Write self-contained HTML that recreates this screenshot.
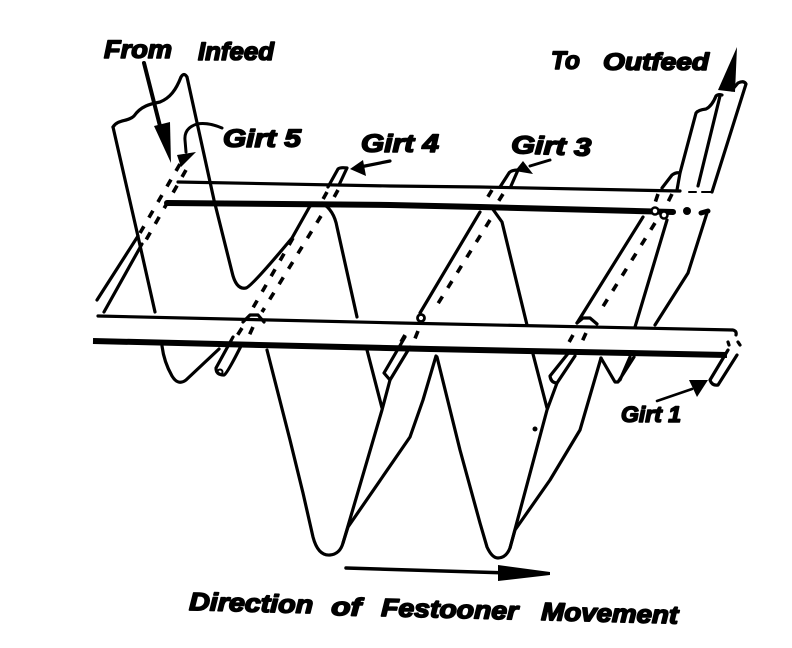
<!DOCTYPE html>
<html><head><meta charset="utf-8"><style>
html,body{margin:0;padding:0;background:#fff}
svg{display:block}
text{font-family:"Liberation Sans",sans-serif;font-weight:bold;font-style:italic;fill:#000;stroke:#000;stroke-width:1.6;stroke-linejoin:round}
.l{fill:none;stroke:#000;stroke-width:3.2;stroke-linecap:round;stroke-linejoin:round}
.d{fill:none;stroke:#000;stroke-width:3.6;stroke-dasharray:8 10}
</style></head><body>
<svg width="792" height="648" viewBox="0 0 792 648" xmlns="http://www.w3.org/2000/svg">
<!-- web -->
<path class="l" d="M113 127C118 119 128 122 134 116C141 106 150 104 160 102C170 98 176 90 181 77Q184 72 187 77L214 200L232 272Q236 290 246 288Q252 286 292 238L310 206L322 203Q334 210 337 227L357 317"/>
<path class="l" d="M113 127L137 232L155 312"/>
<path class="l" d="M162 346Q164 362 172 376Q178 386 186 380L219 349"/>
<path class="l" d="M267 350L290 440L303 493L313 537Q318 556 330 555Q340 554 343 543L382 410L390 380M382 408L367 350"/>
<path class="l" d="M343 543L348 527L410 437L423 400L436 356"/>
<path class="l" d="M437 357L460 450L480 523L487 547Q492 558 498 558Q506 558 510 548L547 410L557 383M547 408L533 354"/>
<path class="l" d="M510 548L515 530L550 480L580 430L601 358"/>
<path class="l" d="M601 358L615 382H618L634 357M620 380L630 357"/>
<path class="l" d="M492 208L502 222L527 325"/>
<path class="l" d="M480 212L420 313"/>
<path class="l" d="M643 217L577 323"/>
<path class="l" d="M667 220L635 327"/>
<path class="l" d="M707 213L688 273L655 325"/>
<path class="l" d="M680 173L696 113Q698 110 706 109Q712 106 716 96Q718 94 722 95M698 186L720 96M712 192L746 84Q744 80 738 83L732 90"/>
<!-- upper rail -->
<path class="l" d="M178 182L390 186L480 187L680 191"/>
<path class="l" style="stroke-width:2" d="M689 192H696M702 192H711"/>
<path class="l" style="stroke-width:6" d="M167 203L390 205L480 207L673 212"/>
<circle cx="687" cy="211" r="4"/>
<path class="l" style="stroke-width:5" d="M701 213L708 211"/>
<!-- lower rail -->
<path class="l" d="M98 316L400 323L733 330Q737 331 736 335"/>
<path class="l" style="stroke-width:6;stroke-linecap:butt" d="M93 341L430 349L727 355"/>
<!-- girt 5 -->
<path class="l" d="M138 236L97 300M142 244L104 312"/>
<path class="d" d="M180 164L140 233M186 170L146 240"/>
<!-- girt 4 -->
<path class="l" d="M328 187L338 169Q340 167 347 168L339 185"/>
<path class="d" d="M327 192L322 201M338 190L332 201"/>
<path class="d" d="M293 238L250 313M321 216L262 312"/>
<path class="l" d="M243 322L250 315H258L264 322"/>
<path class="d" d="M242 328L235 339M253 327L248 338"/>
<path class="l" d="M233 337L216 368Q216 375 224 375Q227 374 242 344"/>
<circle cx="220" cy="372" r="2.5" fill="none" stroke="#000" stroke-width="2"/>
<!-- girt 3 -->
<path class="l" d="M500 187L509 173Q511 170 518 170L511 186"/>
<path class="d" d="M492 190L486 200M503 194L498 202M490 220L434 310"/>
<circle cx="421" cy="318" r="3.5" fill="none" stroke="#000" stroke-width="2.8"/>
<path class="d" d="M405 335L401 342M418 331L414 341"/>
<path class="l" d="M405 337L384 373L390 380L410 347"/>
<!-- girt 2 -->
<path class="l" d="M662 188L672 175Q676 172 680 173L677 190"/>
<path class="d" d="M658 194L654 206M672 194L666 206M655 223L602 308"/>
<circle cx="655" cy="211" r="3.5" fill="#fff" stroke="#000" stroke-width="2.5"/>
<circle cx="664" cy="215" r="3.5" fill="#fff" stroke="#000" stroke-width="2.5"/>
<path class="l" d="M577 323L583 318H590L597 324"/>
<path class="d" d="M573 335L568 344M586 333L581 344"/>
<path class="l" d="M570 351L550 376Q551 383 557 383L575 356"/>
<!-- girt 1 -->
<path class="l" d="M728 350L710 380Q712 386 718 385L737 355"/>
<path class="l" d="M728 342L729 345M738 342L740 345"/>
<!-- arrows -->
<path class="l" style="stroke-width:4" d="M144 63L161 130"/>
<path d="M154 126L170 122L171 163Z"/>
<path class="l" style="stroke-width:3" d="M222 128Q208 122 197 124Q184 128 185 140L186 152"/>
<path d="M177 155L196 152L181 167Z"/>
<path d="M737 47L735 92L718 90Z"/>
<path class="l" d="M390 161L360 167"/>
<path d="M350 169L363 160L366 176Z"/>
<path class="l" style="stroke-width:3" d="M550 160L530 166"/>
<path d="M515 171L523 161L533 174Z"/>
<path class="l" style="stroke-width:2.6" d="M657 401L692 389"/>
<path d="M689 380L708 380L697 397Z"/>
<path class="l" style="stroke-width:3.5" d="M346 568L510 573"/>
<path d="M498 565L550 572V575L498 581Z"/>
<circle cx="535" cy="429" r="2.5"/>
<!-- labels -->
<text x="104" y="58" font-size="25" textLength="68" lengthAdjust="spacingAndGlyphs">From</text>
<text x="198" y="60" font-size="25" textLength="76" lengthAdjust="spacingAndGlyphs">Infeed</text>
<text x="551" y="69" font-size="25" textLength="29" lengthAdjust="spacingAndGlyphs">To</text>
<text x="603" y="70" font-size="24" textLength="106" lengthAdjust="spacingAndGlyphs">Outfeed</text>
<text x="223" y="147" font-size="25" textLength="78" lengthAdjust="spacingAndGlyphs">Girt 5</text>
<text x="361" y="152" font-size="25" textLength="78" lengthAdjust="spacingAndGlyphs">Girt 4</text>
<text x="511" y="153" font-size="25" textLength="80" lengthAdjust="spacingAndGlyphs" transform="rotate(2 511 153)">Girt 3</text>
<text x="621" y="422" font-size="22" textLength="60" lengthAdjust="spacingAndGlyphs">Girt 1</text>
<text x="189" y="610" font-size="25" textLength="124" lengthAdjust="spacingAndGlyphs" transform="rotate(1.5 189 610)">Direction</text>
<text x="331" y="615" font-size="25" textLength="30" lengthAdjust="spacingAndGlyphs" transform="rotate(1.5 331 615)">of</text>
<text x="381" y="616" font-size="25" textLength="137" lengthAdjust="spacingAndGlyphs" transform="rotate(1.5 381 616)">Festooner</text>
<text x="541" y="620" font-size="25" textLength="137" lengthAdjust="spacingAndGlyphs" transform="rotate(1.5 541 620)">Movement</text>
</svg>
</body></html>
